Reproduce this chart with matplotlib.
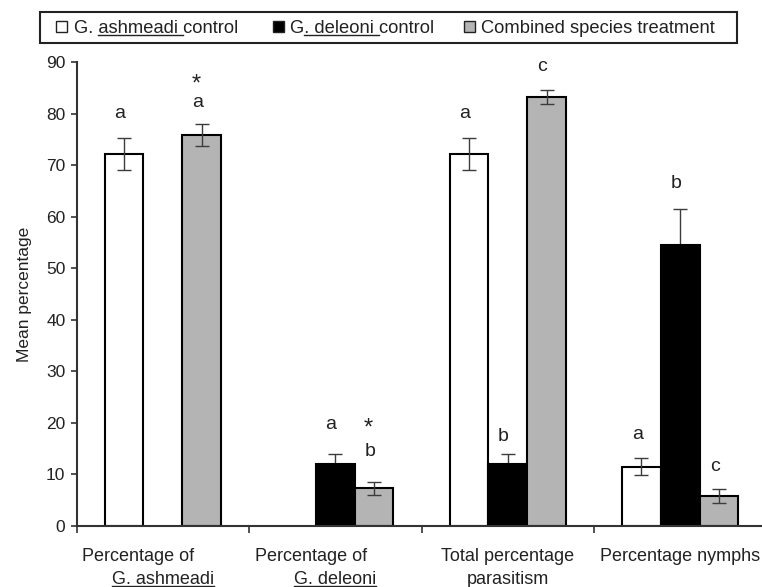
import matplotlib
matplotlib.use("Agg")
import matplotlib.pyplot as plt
import numpy as np
from matplotlib.lines import Line2D
from matplotlib.patches import Rectangle

plt.rcParams["font.family"] = ["Liberation Sans", "DejaVu Sans"]

# category labels, two lines each (second line of the first two is a species name)
cat_line1 = ["Percentage of", "Percentage of", "Total percentage", "Percentage nymphs"]
cat_line2 = ["G. ashmeadi", "G. deleoni", "parasitism", ""]

series_labels = ["G. ashmeadi control", "G. deleoni control", "Combined species treatment"]

# mean percentages and standard errors (nan = not measured)
ashmeadi_mean = [72.2, np.nan, 72.2, 11.5]
ashmeadi_err = [3.1, np.nan, 3.1, 1.7]
deleoni_mean = [np.nan, 12.1, 12.1, 54.6]
deleoni_err = [np.nan, 1.9, 1.9, 6.9]
combined_mean = [75.9, 7.3, 83.2, 5.8]
combined_err = [2.1, 1.2, 1.4, 1.4]

# significance letters and where they sit
ashmeadi_letters = ["a", "", "a", "a"]
deleoni_letters = ["", "a", "b", "b"]
combined_letters = ["a", "b", "c", "c"]
ashmeadi_letter_y = [80.1, np.nan, 80.1, 17.8]
deleoni_letter_y = [np.nan, 19.6, 17.3, 66.5]
combined_letter_y = [82.1, 14.4, 89.2, 11.6]
combined_star_y = [85.6, 18.9, np.nan, np.nan]

TEXT = "#222222"
W, H = 762, 587


def px(x, y):
    """pixel position measured from the top-left corner -> figure fraction"""
    return x / W, 1 - y / H


def underline(fig, txt, start=0, stop=None, drop=2.0):
    renderer = fig.canvas.get_renderer()
    s = txt.get_text()
    stop = len(s) if stop is None else stop
    prop = txt.get_fontproperties()

    def advance(chunk):
        if not chunk:
            return 0.0
        w_pad = renderer.get_text_width_height_descent(chunk + "|", prop, ismath=False)[0]
        w_bar = renderer.get_text_width_height_descent("|", prop, ismath=False)[0]
        return w_pad - w_bar

    box = txt.get_window_extent(renderer)
    descent = renderer.get_text_width_height_descent("lp", prop, ismath=False)[2]
    y = box.y0 + descent - drop
    x0 = box.x0 + advance(s[:start])
    x1 = box.x0 + advance(s[:stop])
    inv = fig.transFigure.inverted()
    (fx0, fy), (fx1, _) = inv.transform([(x0, y), (x1, y)])
    fig.add_artist(Line2D([fx0, fx1], [fy, fy], transform=fig.transFigure,
                          color=TEXT, lw=1.0))


fig = plt.figure(figsize=(W / 100, H / 100), dpi=100)
ax = fig.add_axes([76.5 / W, 61 / H, 690 / W, 464 / H])

x = np.arange(len(cat_line1)) + 0.5
width = 0.225
series = [
    (ashmeadi_mean, ashmeadi_err, "white", ashmeadi_letters, ashmeadi_letter_y, -width),
    (deleoni_mean, deleoni_err, "black", deleoni_letters, deleoni_letter_y, 0.0),
    (combined_mean, combined_err, "#b4b4b4", combined_letters, combined_letter_y, width),
]

for mean, err, color, letters, letter_y, off in series:
    mean = np.asarray(mean)
    err = np.asarray(err)
    ok = ~np.isnan(mean)
    xs = x[ok] + off
    ax.bar(xs, mean[ok], width=width, color=color, edgecolor="black",
           linewidth=1.5, zorder=2)
    # the black bars hide the lower half of their error bars
    ax.errorbar(xs, mean[ok], yerr=err[ok], fmt="none",
                ecolor="#3c3c3c", elinewidth=1.0, capsize=5, capthick=1.0,
                zorder=1 if color == "black" else 3)
    for xi, lab, ly in zip(x + off, letters, letter_y):
        if lab:
            ax.annotate(lab, (xi, ly), xytext=(-3, 0), textcoords="offset points",
                        ha="center", va="center", fontsize=14, color=TEXT)

for xi, sy in zip(x + width, combined_star_y):
    if not np.isnan(sy):
        ax.annotate("*", (xi, sy), xytext=(-4, 0), textcoords="offset points",
                    ha="center", va="center", fontsize=17, color=TEXT)

ax.set_xlim(0, 4)
ax.set_ylim(0, 90)
ax.set_yticks(np.arange(0, 91, 10))
ax.set_xticks(np.arange(0, 5))
ax.set_xticklabels([])
ax.tick_params(axis="y", direction="out", length=4, width=1.2, pad=4,
               labelsize=12.5, colors="#333333", labelcolor=TEXT)
ax.tick_params(axis="x", direction="out", length=5, width=1.2, colors="#333333")
for side in ("top", "right"):
    ax.spines[side].set_visible(False)
for side in ("left", "bottom"):
    ax.spines[side].set_linewidth(1.5)
    ax.spines[side].set_color("#333333")
ax.set_ylabel("Mean percentage", fontsize=12.5, color=TEXT, labelpad=10)

# category labels under the axis
species_texts = []
for i, (l1, l2) in enumerate(zip(cat_line1, cat_line2)):
    shift = -0.143 if i < 2 else 0.0
    ax.annotate(l1, (x[i] + shift, 0), xycoords=("data", "axes fraction"),
                xytext=(0, -25), textcoords="offset points",
                ha="center", va="baseline", fontsize=13, color=TEXT)
    if l2:
        t = ax.annotate(l2, (x[i], 0), xycoords=("data", "axes fraction"),
                        xytext=(0, -41.8), textcoords="offset points",
                        ha="center", va="baseline", fontsize=13, color=TEXT)
        if i < 2:
            species_texts.append(t)

# legend box across the top
x0, y0 = px(40, 43)
x1, y1 = px(737, 12)
fig.add_artist(Rectangle((x0, y0), x1 - x0, y1 - y0, transform=fig.transFigure,
                         facecolor="white", edgecolor="#222222", lw=1.5))
swatch_x = [56, 273, 464]
text_x = [74, 290, 481]
fills = ["white", "black", "#b4b4b4"]
legend_texts = []
for sx, tx, fc, lab in zip(swatch_x, text_x, fills, series_labels):
    bx, by = px(sx, 32)
    fig.add_artist(Rectangle((bx, by), 11 / W, 11 / H, transform=fig.transFigure,
                             facecolor=fc, edgecolor="#222222", lw=1.0))
    tx_f, ty_f = px(tx, 33.3)
    legend_texts.append(fig.text(tx_f, ty_f, lab, ha="left", va="baseline",
                                 fontsize=13.2, color=TEXT))

fig.canvas.draw()
underline(fig, legend_texts[0], 3, 12)
underline(fig, legend_texts[1], 1, 11)
for t in species_texts:
    underline(fig, t)

fig.savefig("out.png", dpi=100)
